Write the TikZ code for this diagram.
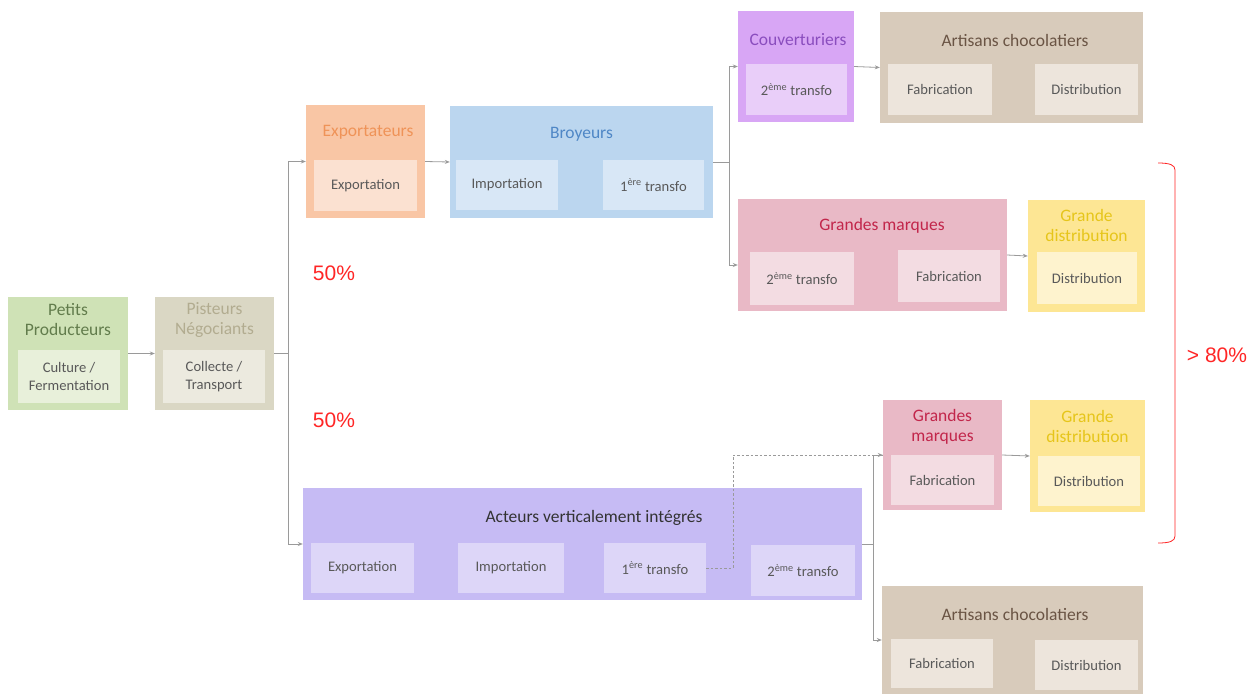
\documentclass[tikz,border=0pt]{standalone}
\usepackage{fontspec}
\setmainfont{Carlito}
\newfontfamily\arialf{Liberation Sans}
\usetikzlibrary{arrows.meta}
\definecolor{cGreen}{HTML}{CFE2B6}\definecolor{cGreenI}{HTML}{E8F0DA}\definecolor{tGreen}{HTML}{627C4C}
\definecolor{cPist}{HTML}{DAD7C4}\definecolor{cPistI}{HTML}{ECEADF}\definecolor{tPist}{HTML}{B2AC90}
\definecolor{cOr}{HTML}{F9C6A5}\definecolor{cOrI}{HTML}{FBE1D1}\definecolor{tOr}{HTML}{EF9358}
\definecolor{cBl}{HTML}{BBD6EF}\definecolor{cBlI}{HTML}{D8E7F6}\definecolor{tBl}{HTML}{4F87C6}
\definecolor{cPu}{HTML}{D8A6F5}\definecolor{cPuI}{HTML}{E9CEF9}\definecolor{tPu}{HTML}{8A4DBE}
\definecolor{cBr}{HTML}{D8CBBB}\definecolor{cBrI}{HTML}{EDE5DC}\definecolor{tBr}{HTML}{6A5444}
\definecolor{cPk}{HTML}{E9B9C6}\definecolor{cPkI}{HTML}{F3DCE2}\definecolor{tPk}{HTML}{C2264B}
\definecolor{cYe}{HTML}{FDE694}\definecolor{cYeI}{HTML}{FEF3CE}\definecolor{tYe}{HTML}{E6C51A}
\definecolor{cLa}{HTML}{C6BBF4}\definecolor{cLaI}{HTML}{DDD6F8}\definecolor{tLa}{HTML}{333333}
\definecolor{tIn}{HTML}{595959}\definecolor{cConn}{HTML}{9A9A9A}\definecolor{cRed}{HTML}{FF2626}
\tikzset{
  obox/.style={draw=none, rectangle, inner sep=0pt},
  ibox/.style={draw=none, rectangle, inner sep=0pt, text=tIn, font=\fontsize{14.6}{18}\selectfont, align=center},
  ttl/.style={inner sep=0pt, font=\fontsize{17.5}{20}\selectfont, align=center},
  conn/.style={draw=cConn, line width=0.8pt},
  arr/.style={conn, -{Stealth[length=5pt,width=4pt]}},
  pct/.style={text=cRed, font=\arialf\fontsize{21}{24}\selectfont, inner sep=0pt}
}
\begin{document}
\begin{tikzpicture}[x=1pt,y=-1pt]
\useasboundingbox[fill=white] (0,0) rectangle (1255,694);
% Petits Producteurs
\node[obox, fill=cGreen, minimum width=120pt, minimum height=113pt] (petits) at (68,353.5) {};
\node[ttl, text=tGreen] (petitsT) at (68,320) {Petits\\Producteurs};
\node[ibox, fill=cGreenI, minimum width=102pt, minimum height=53pt] (petitsI) at (69,376.5) {Culture /\\Fermentation};
% Pisteurs
\node[obox, fill=cPist, minimum width=119pt, minimum height=113pt] (pist) at (214.5,353.5) {};
\node[ttl, text=tPist] (pistT) at (214.5,320) {Pisteurs\\Négociants};
\node[ibox, fill=cPistI, minimum width=102pt, minimum height=53pt] (pistI) at (214,376.5) {Collecte /\\Transport};
% Exportateurs
\node[obox, fill=cOr, minimum width=119pt, minimum height=113pt] (expo) at (365.5,161.5) {};
\node[ttl, text=tOr] (expoT) at (368,132) {Exportateurs};
\node[ibox, fill=cOrI, minimum width=103pt, minimum height=51pt] (expoI) at (365.5,185.5) {Exportation};
% Broyeurs
\node[obox, fill=cBl, minimum width=263pt, minimum height=112pt] (broy) at (581.5,162) {};
\node[ttl, text=tBl] (broyT) at (581.5,134) {Broyeurs};
\node[ibox, fill=cBlI, minimum width=102pt, minimum height=50pt] (broyA) at (507,185) {Importation};
\node[ibox, fill=cBlI, minimum width=101pt, minimum height=50pt] (broyB) at (653.5,185) {1\textsuperscript{ère} transfo};
% Couverturiers
\node[obox, fill=cPu, minimum width=116pt, minimum height=111pt] (couv) at (796,66.5) {};
\node[ttl, text=tPu] (couvT) at (798,40) {Couverturiers};
\node[ibox, fill=cPuI, minimum width=101pt, minimum height=51pt] (couvI) at (796.5,89.5) {2\textsuperscript{ème} transfo};
% Artisans top
\node[obox, fill=cBr, minimum width=263pt, minimum height=111pt] (art1) at (1011.5,67.5) {};
\node[ttl, text=tBr] (art1T) at (1015,40) {Artisans chocolatiers};
\node[ibox, fill=cBrI, minimum width=104pt, minimum height=51pt] (art1A) at (940,89.5) {Fabrication};
\node[ibox, fill=cBrI, minimum width=103pt, minimum height=51pt] (art1B) at (1086.5,89.5) {Distribution};
% Grandes marques top
\node[obox, fill=cPk, minimum width=269pt, minimum height=112pt] (gm1) at (872.5,255) {};
\node[ttl, text=tPk] (gm1T) at (882,226) {Grandes marques};
\node[ibox, fill=cPkI, minimum width=104pt, minimum height=53pt] (gm1A) at (802,278.5) {2\textsuperscript{ème} transfo};
\node[ibox, fill=cPkI, minimum width=102pt, minimum height=52pt] (gm1B) at (949,276) {Fabrication};
% Grande distribution top
\node[obox, fill=cYe, minimum width=117pt, minimum height=112pt] (gd1) at (1086.5,256) {};
\node[ttl, text=tYe] (gd1T) at (1086.5,225) {Grande\\distribution};
\node[ibox, fill=cYeI, minimum width=100pt, minimum height=52pt] (gd1I) at (1087,278) {Distribution};
% Acteurs verticalement integres
\node[obox, fill=cLa, minimum width=559pt, minimum height=112pt] (act) at (582.5,544) {};
\node[ttl, text=tLa] (actT) at (594,518) {Acteurs verticalement intégrés};
\node[ibox, fill=cLaI, minimum width=103pt, minimum height=50pt] (actA) at (362.5,568) {Exportation};
\node[ibox, fill=cLaI, minimum width=106pt, minimum height=50pt] (actB) at (511,568) {Importation};
\node[ibox, fill=cLaI, minimum width=102pt, minimum height=50pt] (actC) at (655,568) {1\textsuperscript{ère} transfo};
\node[ibox, fill=cLaI, minimum width=104pt, minimum height=51pt] (actD) at (803,570.5) {2\textsuperscript{ème} transfo};
% Grandes marques bottom
\node[obox, fill=cPk, minimum width=119pt, minimum height=110pt] (gm2) at (942.5,455) {};
\node[ttl, text=tPk] (gm2T) at (942.5,427) {Grandes\\marques};
\node[ibox, fill=cPkI, minimum width=103pt, minimum height=50pt] (gm2I) at (942.5,480) {Fabrication};
% Grande distribution bottom
\node[obox, fill=cYe, minimum width=115pt, minimum height=112pt] (gd2) at (1087.5,456) {};
\node[ttl, text=tYe] (gd2T) at (1087.5,426) {Grande\\distribution};
\node[ibox, fill=cYeI, minimum width=102pt, minimum height=50pt] (gd2I) at (1089,481) {Distribution};
% Artisans bottom
\node[obox, fill=cBr, minimum width=261pt, minimum height=108pt] (art2) at (1012.5,640) {};
\node[ttl, text=tBr] (art2T) at (1015,614) {Artisans chocolatiers};
\node[ibox, fill=cBrI, minimum width=102pt, minimum height=49pt] (art2A) at (942,663.5) {Fabrication};
\node[ibox, fill=cBrI, minimum width=103pt, minimum height=50pt] (art2B) at (1086.5,665) {Distribution};
% junctions
\coordinate (j1) at (288,353.5);
\coordinate (j2) at (729,162);
\coordinate (j3) at (873,544);
\coordinate (j4) at (733,568);
% connectors
\draw[arr] (petits.east) -- (pist.west);
\draw[conn] (pist.east) -- (j1);
\draw[arr] (j1) |- (expo.west);
\draw[arr] (j1) |- (act.west);
\draw[arr] (expo.east) -- (broy.west);
\draw[conn] (broy.east) -- (j2);
\draw[arr] (j2) |- (couv.west);
\draw[arr] (j2) |- ([yshift=-10pt]gm1.west);
\draw[arr] (couv.east) -- (art1.west);
\draw[arr] (gm1.east) -- (gd1.west);
\draw[conn] (act.east) -- (j3);
\draw[arr] (j3) |- (gm2.west);
\draw[arr] (j3) |- (art2.west);
\draw[conn, dashed, dash pattern=on 2.5pt off 2pt] (actC.east) -- (j4) |- (gm2.west);
\draw[arr] (gm2.east) -- (gd2.west);
% percentages
\node[pct] (p1) at (334,273) {50\%};
\node[pct] (p2) at (334,420) {50\%};
\draw[cRed, line width=0.8pt] (1158,163) .. controls (1170,163) and (1175,165) .. (1175,170) -- (1175,536) .. controls (1175,541) and (1170,543) .. (1158,543);
\node[pct] (p3) at (1217,355) {> 80\%};
\end{tikzpicture}
\end{document}
